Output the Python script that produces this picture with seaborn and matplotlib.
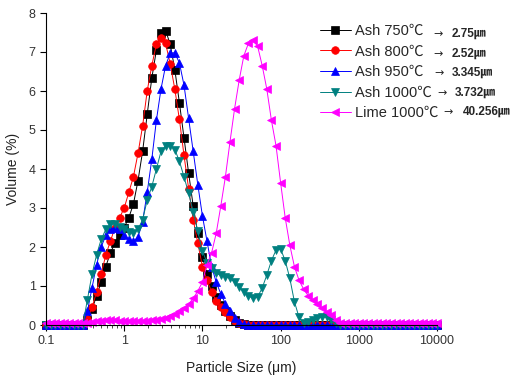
import pandas as pd
import matplotlib
matplotlib.use("Agg")
import matplotlib.pyplot as plt
import seaborn as sns
from matplotlib.ticker import LogLocator, FixedLocator, NullFormatter

# particle size channels (um), 17 per decade, 0.1 .. 10000
sizes = [
    0.1, 0.1145, 0.1311, 0.1501, 0.1719, 0.1968, 0.2254, 0.2581, 0.2955, 0.3384, 0.3875, 0.4437, 0.5081, 0.5818, 0.6662, 0.7628, 0.8734,
    1.0, 1.145, 1.311, 1.501, 1.719, 1.968, 2.254, 2.581, 2.955, 3.384, 3.875, 4.437, 5.081, 5.818, 6.662, 7.628, 8.734,
    10.0, 11.45, 13.11, 15.01, 17.19, 19.68, 22.54, 25.81, 29.55, 33.84, 38.75, 44.37, 50.81, 58.18, 66.62, 76.28, 87.34,
    100.0, 114.5, 131.1, 150.1, 171.9, 196.8, 225.4, 258.1, 295.5, 338.4, 387.5, 443.7, 508.1, 581.8, 666.2, 762.8, 873.4,
    1000.0, 1145, 1311, 1501, 1719, 1968, 2254, 2581, 2955, 3384, 3875, 4437, 5081, 5818, 6662, 7628, 8734,
    10000.0,
]

zeros17 = [0.0] * 17

ash750 = ([0.0] * 9 + [0.12, 0.4, 0.75, 1.1, 1.5, 1.85, 2.1, 2.3]
          + [2.5, 2.75, 3.1, 3.7, 4.45, 5.4, 6.33, 7.05, 7.5, 7.55, 7.2, 6.55, 5.7, 4.8, 3.9, 3.05, 2.35]
          + [1.75, 1.3, 1.0, 0.72, 0.52, 0.36, 0.22, 0.12, 0.05, 0.02, 0, 0, 0, 0, 0, 0, 0]
          + zeros17 + zeros17 + [0.0])

ash800 = ([0.0] * 9 + [0.15, 0.45, 0.85, 1.3, 1.8, 2.15, 2.5, 2.75]
          + [3.0, 3.4, 3.8, 4.4, 5.1, 6.0, 6.65, 7.2, 7.36, 7.22, 6.7, 6.05, 5.27, 4.35, 3.5, 2.7, 2.1]
          + [1.5, 1.15, 0.85, 0.62, 0.46, 0.33, 0.2, 0.11, 0.05, 0.02, 0, 0, 0, 0, 0, 0, 0]
          + zeros17 + zeros17 + [0.0])

ash950 = ([0.0] * 9 + [0.35, 0.95, 1.55, 2.0, 2.3, 2.45, 2.5, 2.45]
          + [2.3, 2.2, 2.15, 2.25, 2.65, 3.4, 4.25, 5.25, 6.05, 6.65, 6.97, 6.98, 6.72, 6.15, 5.3, 4.45, 3.6]
          + [2.8, 2.15, 1.5, 1.1, 0.8, 0.55, 0.35, 0.18, 0.07, 0.02, 0, 0, 0, 0, 0, 0, 0]
          + zeros17 + zeros17 + [0.0])

ash1000 = ([0.0] * 9 + [0.65, 1.3, 1.8, 2.2, 2.45, 2.58, 2.6, 2.52]
           + [2.45, 2.38, 2.35, 2.45, 2.7, 3.2, 3.55, 4.0, 4.45, 4.6, 4.6, 4.5, 4.2, 3.8, 3.38, 2.9, 2.4]
           + [1.9, 1.6, 1.45, 1.33, 1.27, 1.23, 1.2, 1.1, 0.97, 0.85, 0.75, 0.68, 0.72, 0.95, 1.28, 1.65, 1.92]
           + [1.95, 1.65, 1.2, 0.6, 0.2, 0.05, 0.08, 0.12, 0.17, 0.2, 0.2, 0.12, 0.04, 0, 0, 0, 0]
           + zeros17 + [0.0])

lime1000 = ([0.05] * 9 + [0.06, 0.08, 0.1, 0.11, 0.12, 0.13, 0.12, 0.11]
            + [0.1, 0.09, 0.09, 0.09, 0.1, 0.11, 0.12, 0.14, 0.16, 0.19, 0.23, 0.28, 0.35, 0.43, 0.54, 0.68, 0.87]
            + [1.1, 1.55, 1.85, 2.35, 3.05, 3.8, 4.7, 5.55, 6.28, 6.9, 7.22, 7.3, 7.15, 6.65, 6.05, 5.25, 4.6]
            + [3.65, 2.75, 2.05, 1.5, 1.15, 0.92, 0.75, 0.63, 0.53, 0.43, 0.33, 0.25, 0.13, 0.05, 0.05, 0.05, 0.05]
            + [0.05] * 17 + [0.05])

labels = ["Ash 750\u2103", "Ash 800\u2103", "Ash 950\u2103", "Ash 1000\u2103", "Lime 1000\u2103"]
series = [ash750, ash800, ash950, ash1000, lime1000]
colors = ["#000000", "#ff0000", "#0000ff", "#008080", "#ff00ff"]
markers = ["s", "o", "^", "v", "<"]
medians = ["2.75\u339b", "2.52\u339b", "3.345\u339b", "3.732\u339b", "40.256\u339b"]

sns.set_style("ticks")
plt.rcParams["font.family"] = ["Liberation Sans", "Noto Sans CJK JP", "DejaVu Sans"]

fig = plt.figure(figsize=(5.15, 3.86), dpi=100)
ax = fig.add_axes([46 / 515, 61 / 386, 391 / 515, 312 / 386])

for lab, vals, c, m in zip(labels, series, colors, markers):
    sns.lineplot(x=sizes, y=vals, ax=ax, color=c, marker=m, markersize=5.5,
                 markeredgecolor=c, markeredgewidth=0.5, linewidth=0.7,
                 label=lab, clip_on=False)

ax.set_xscale("log")
ax.set_xlim(0.1, 10000)
ax.set_ylim(0, 8)
ax.xaxis.set_major_locator(FixedLocator([0.1, 1, 10, 100, 1000, 10000]))
ax.set_xticklabels(["0.1", "1", "10", "100", "1000", "10000"])
ax.xaxis.set_minor_locator(LogLocator(base=10, subs=range(2, 10), numticks=20))
ax.xaxis.set_minor_formatter(NullFormatter())
ax.set_yticks(range(0, 9))
ax.tick_params(axis="both", which="major", direction="out", length=4, width=0.8,
               labelsize=9, labelcolor="#333333", color="black")
ax.tick_params(axis="both", which="minor", direction="out", length=2, width=0.6)
for s in ["top", "right"]:
    ax.spines[s].set_visible(False)
for s in ["left", "bottom"]:
    ax.spines[s].set_linewidth(0.8)
    ax.spines[s].set_color("black")

ax.set_xlabel("Particle Size (\u03bcm)", fontsize=10, color="#222222", labelpad=10)
ax.set_ylabel("Volume (%)", fontsize=10, color="#222222", labelpad=6)

leg = ax.legend(loc="upper left", bbox_to_anchor=(320 / 515, 1 - 24 / 386),
                bbox_transform=fig.transFigure, frameon=False, fontsize=10.5,
                handlelength=2.1, handletextpad=0.3, labelspacing=0.45,
                borderpad=0, borderaxespad=0)

# median size notes beside the legend
row_y = [33, 53, 72, 92, 111]
arrow_x = [433, 433, 434, 437, 443]
num_x = [452, 452, 452, 455, 463]
for ry, ax_, nx, txt in zip(row_y, arrow_x, num_x, medians):
    fig.text(ax_ / 515, 1 - (ry + 4) / 386, "\u2192", fontsize=8, va="baseline",
             ha="left", family="DejaVu Sans")
    fig.text(nx / 515, 1 - (ry + 4) / 386, txt, fontsize=8.5, fontweight="bold",
             va="baseline", ha="left")

fig.savefig("out.png", dpi=100)
